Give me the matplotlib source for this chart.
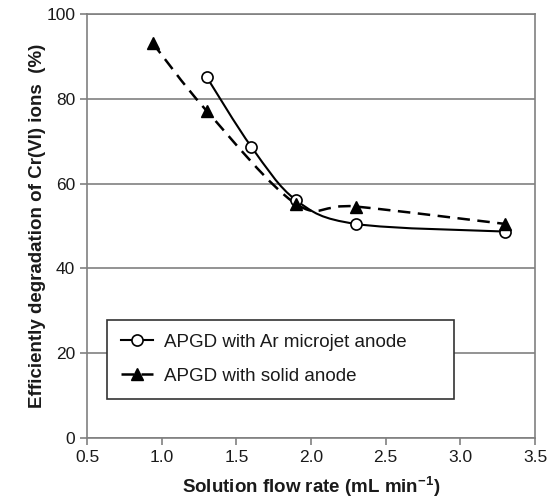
import matplotlib
matplotlib.use("Agg")
import numpy as np
import matplotlib.pyplot as plt
from matplotlib.path import Path
from matplotlib.patches import PathPatch

plt.rcParams['font.family'] = ['Liberation Sans', 'DejaVu Sans']
plt.rcParams['mathtext.fontset'] = 'custom'
plt.rcParams['mathtext.rm'] = 'Liberation Sans'
plt.rcParams['mathtext.bf'] = 'Liberation Sans:bold'

# data
flow_ar = [1.3, 1.6, 1.9, 2.3, 3.3]
eff_ar = [85.2, 68.7, 56.1, 50.5, 48.7]
flow_solid = [0.94, 1.3, 1.9, 2.3, 3.3]
eff_solid = [93.1, 77.2, 55.2, 54.6, 50.5]
labels = ['APGD with Ar microjet anode', 'APGD with solid anode']


def smooth_path(xs, ys):
    # spreadsheet-style smoothed line: cubic Bezier through the points
    p = np.column_stack([xs, ys]).astype(float)
    ext = np.vstack([p[0], p, p[-1]])
    verts = [p[0]]
    codes = [Path.MOVETO]
    for i in range(len(p) - 1):
        c1 = ext[i + 1] + (ext[i + 2] - ext[i]) / 6
        c2 = ext[i + 2] - (ext[i + 3] - ext[i + 1]) / 6
        verts += [c1, c2, ext[i + 2]]
        codes += [Path.CURVE4] * 3
    return Path(verts, codes)


fig = plt.figure(figsize=(5.51, 4.99), dpi=100)
ax = fig.add_axes([0.158, 0.122, 0.813, 0.850])

grid_c = '#808080'
ax.set_xlim(0.5, 3.5)
ax.set_ylim(0, 100)
ax.set_yticks([0, 20, 40, 60, 80, 100])
ax.set_xticks([0.5, 1.0, 1.5, 2.0, 2.5, 3.0, 3.5])
ax.set_xticklabels(['0.5', '1.0', '1.5', '2.0', '2.5', '3.0', '3.5'])
ax.yaxis.grid(True, color=grid_c, linewidth=1.2)
ax.set_axisbelow(True)
for s in ax.spines.values():
    s.set_color(grid_c)
    s.set_linewidth(1.2)
ax.tick_params(colors=grid_c, labelcolor='#1a1a1a', labelsize=12.5, length=5, width=1.2)

ax.add_patch(PathPatch(smooth_path(flow_ar, eff_ar), facecolor='none',
                       edgecolor='black', linewidth=1.5, zorder=3))
ax.add_patch(PathPatch(smooth_path(flow_solid, eff_solid), facecolor='none',
                       edgecolor='black', linewidth=1.8, linestyle=(0, (5, 3)),
                       zorder=2))

ax.plot(flow_ar, eff_ar, linestyle='none', marker='o', markersize=8,
        markerfacecolor='white', markeredgecolor='black', markeredgewidth=1.2,
        zorder=4)
ax.plot(flow_solid, eff_solid, linestyle='none', marker='^', markersize=8,
        markerfacecolor='black', markeredgecolor='black', zorder=4)

# legend entries
ax.plot([], [], '-', color='black', linewidth=1.5, marker='o', markersize=8,
        markerfacecolor='white', markeredgecolor='black', markeredgewidth=1.2,
        label=labels[0])
ax.plot([], [], '--', color='black', linewidth=1.8, marker='^', markersize=8,
        markerfacecolor='black', markeredgecolor='black', dashes=(5, 3),
        label=labels[1])

ax.set_xlabel('Solution flow rate (mL min$^{\\mathbf{-1}}$)', fontsize=13.5,
              fontweight='bold', color='#1a1a1a', labelpad=7)
ax.set_ylabel('Efficiently degradation of Cr(VI) ions  (%)', fontsize=13.5,
              fontweight='bold', color='#1a1a1a', labelpad=0)

leg = ax.legend(loc='lower left', bbox_to_anchor=(0.045, 0.092, 0.775, 0.19),
                mode='expand', borderaxespad=0, fancybox=False, framealpha=1,
                edgecolor='#333333', fontsize=13.5, handlelength=1.7,
                handletextpad=0.6, labelspacing=0.9, borderpad=0.75)
leg.get_frame().set_linewidth(1.2)
for t in leg.get_texts():
    t.set_color('#1a1a1a')

fig.savefig('out.png', dpi=100)
